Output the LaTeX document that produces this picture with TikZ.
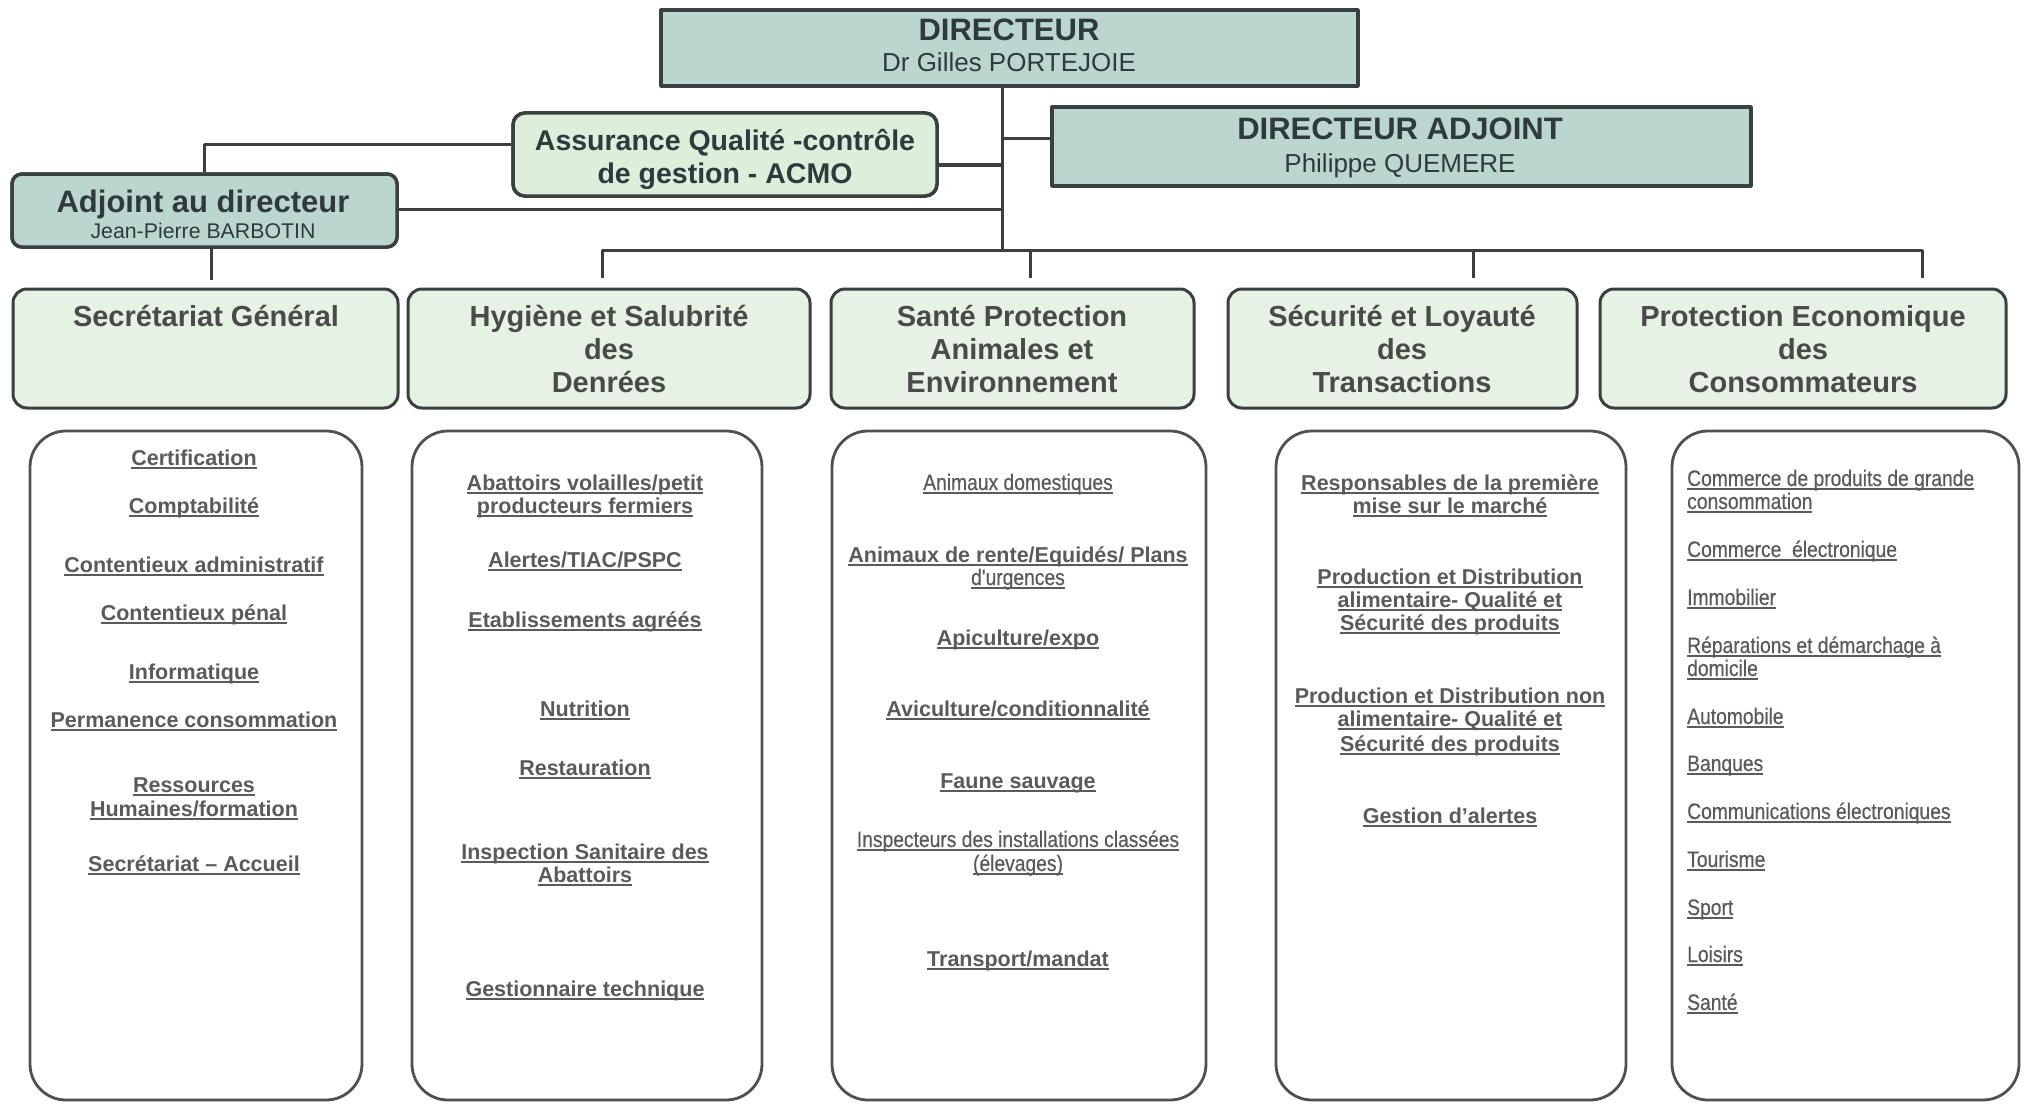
\documentclass[tikz,border=0pt]{standalone}
\usepackage{fontspec}
\setmainfont{Liberation Sans}
% condensed face for the long lists
\newfontfamily\condfont[FakeStretch=0.86,FakeBold=0.5]{Liberation Sans}

\definecolor{tealfill}{HTML}{BBD6CF}
\definecolor{greenfill}{HTML}{DDEEDA}
\definecolor{lightfill}{HTML}{E6F2E3}
\definecolor{edge}{HTML}{3A3F3F}
\definecolor{wire}{HTML}{3E3E3E}
\definecolor{headtxt}{HTML}{2F3A3E}
\definecolor{titletxt}{HTML}{4A4A4A}
\definecolor{itemtxt}{HTML}{5A5A5A}
\definecolor{listedge}{HTML}{505050}

% underlined text with a rule at a fixed depth below the baseline
\newcommand\ulx[1]{\setbox0=\hbox{#1}\rlap{\rule[-3.5pt]{\wd0}{1.5pt}}\box0}
\newcommand\fsz[1]{\fontsize{#1}{#1}\selectfont}
\newcommand\nrw{\condfont\mdseries\fsz{22.4}}

\begin{document}
\begin{tikzpicture}[x=1pt,y=-1pt,line join=round,
  headbox/.style={draw=edge,line width=3.5pt,fill=tealfill,inner sep=0pt},
  qualbox/.style={draw=edge,line width=3.5pt,fill=greenfill,rounded corners=12pt,inner sep=0pt},
  deptbox/.style={draw=edge,line width=3pt,fill=lightfill,rounded corners=14pt,inner sep=0pt},
  listbox/.style={draw=listedge,line width=2.8pt,fill=white,rounded corners=36pt,inner sep=0pt},
  wire/.style={draw=wire,line width=3pt},
  htext/.style={text=headtxt,inner sep=0pt,anchor=base},
  ttext/.style={text=titletxt,inner sep=0pt,anchor=base,font=\bfseries\fsz{29}},
  itext/.style={text=itemtxt,inner sep=0pt,anchor=base,font=\bfseries\fsz{21.5}},
  ntext/.style={text=itemtxt,inner sep=0pt,anchor=base,font=\nrw},
  ltext/.style={text=itemtxt,inner sep=0pt,anchor=base west,font=\nrw}]

\useasboundingbox (0,0) rectangle (2024,1105);
\fill[white] (0,0) rectangle (2024,1105);

% ---------- helper levels for the connectors ----------
\coordinate (yq) at (0,145);
\coordinate (yqa) at (0,165);
\coordinate (yda) at (0,139);
\coordinate (yad) at (0,209);
\coordinate (tk) at (1002,250);
\coordinate (d2) at (602,278);
\coordinate (d3) at (1030,278);
\coordinate (d4) at (1473,278);
\coordinate (d5) at (1922,278);
\coordinate (d1) at (211,280);

% ---------- management boxes ----------
\node[headbox,minimum width=697,minimum height=76] (dir) at (1009.5,48) {};
\node[qualbox,minimum width=424,minimum height=83] (assur) at (725,154.5) {};
\node[headbox,minimum width=699,minimum height=79] (dadj) at (1401.5,146.5) {};
\node[headbox,rounded corners=10pt,minimum width=385,minimum height=73] (adj) at (204.5,210.5) {};

% ---------- connectors ----------
\draw[wire] (dir.south -| tk) -- (tk);
\draw[wire] (assur.east |- yqa) -- (tk |- yqa);
\draw[wire] (dadj.west |- yda) -- (tk |- yda);
\draw[wire] (adj.east |- yad) -- (tk |- yad);
\draw[wire] (adj.north) -- (adj.north |- yq) -- (assur.west |- yq);
\draw[wire] (adj.south -| d1) -- (d1);
\draw[wire] (d2) -- (d2 |- tk) -- (d5 |- tk) -- (d5);
\draw[wire] (d3 |- tk) -- (d3);
\draw[wire] (d4 |- tk) -- (d4);

% redraw boxes over the wire ends
\node[headbox,minimum width=697,minimum height=76] at (dir) {};
\node[qualbox,minimum width=424,minimum height=83] at (assur) {};
\node[headbox,minimum width=699,minimum height=79] at (dadj) {};
\node[headbox,rounded corners=10pt,minimum width=385,minimum height=73] at (adj) {};

% ---------- management texts ----------
\node[htext,font=\bfseries\fsz{31}] (dir-t1) at (1009,41) {DIRECTEUR};
\node[htext,font=\fsz{26}] (dir-t2) at (1009,72) {Dr Gilles PORTEJOIE};
\node[htext,font=\bfseries\fsz{31}] (dadj-t1) at (1400,140) {DIRECTEUR ADJOINT};
\node[htext,font=\fsz{26}] (dadj-t2) at (1400,172) {Philippe QUEMERE};
\node[htext,font=\bfseries\fsz{28.5}] (assur-t1) at (725,150) {Assurance Qualité -contrôle};
\node[htext,font=\bfseries\fsz{28.5}] (assur-t2) at (725,183) {de gestion - ACMO};
\node[htext,font=\bfseries\fsz{31}] (adj-t1) at (203,212) {Adjoint au directeur};
\node[htext,font=\fsz{21.3}] (adj-t2) at (203,238) {Jean-Pierre BARBOTIN};

% ---------- department headers ----------
\node[deptbox,minimum width=385,minimum height=119] (sg) at (205.5,348.5) {};
\node[deptbox,minimum width=402,minimum height=119] (hyg) at (609,348.5) {};
\node[deptbox,minimum width=363,minimum height=119] (san) at (1012.5,348.5) {};
\node[deptbox,minimum width=349,minimum height=119] (sec) at (1402.5,348.5) {};
\node[deptbox,minimum width=406,minimum height=119] (pro) at (1803,348.5) {};

\node[ttext] (sg-t1) at (206,326) {Secrétariat Général};
\node[ttext] (hyg-t1) at (609,326) {Hygiène et Salubrité};
\node[ttext] (hyg-t2) at (609,359) {des};
\node[ttext] (hyg-t3) at (609,392) {Denrées};
\node[ttext] (san-t1) at (1012,326) {Santé Protection};
\node[ttext] (san-t2) at (1012,359) {Animales et};
\node[ttext] (san-t3) at (1012,392) {Environnement};
\node[ttext] (sec-t1) at (1402,326) {Sécurité et Loyauté};
\node[ttext] (sec-t2) at (1402,359) {des};
\node[ttext] (sec-t3) at (1402,392) {Transactions};
\node[ttext] (pro-t1) at (1803,326) {Protection Economique};
\node[ttext] (pro-t2) at (1803,359) {des};
\node[ttext] (pro-t3) at (1803,392) {Consommateurs};

% ---------- task lists ----------
\node[listbox,minimum width=332,minimum height=669] (l1) at (196,765.5) {};
\node[listbox,minimum width=350,minimum height=669] (l2) at (587,765.5) {};
\node[listbox,minimum width=374,minimum height=669] (l3) at (1019,765.5) {};
\node[listbox,minimum width=350,minimum height=669] (l4) at (1451,765.5) {};
\node[listbox,minimum width=347,minimum height=669] (l5) at (1845.5,765.5) {};

% Secrétariat Général
\node[itext] (l1-a) at (194,465) {\ulx{Certification}};
\node[itext] (l1-b) at (194,513) {\ulx{Comptabilité}};
\node[itext] (l1-c) at (194,572) {\ulx{Contentieux administratif}};
\node[itext] (l1-d) at (194,620) {\ulx{Contentieux pénal}};
\node[itext] (l1-e) at (194,679) {\ulx{Informatique}};
\node[itext] (l1-f) at (194,727) {\ulx{Permanence consommation}};
\node[itext] (l1-g) at (194,792) {\ulx{Ressources}};
\node[itext] (l1-h) at (194,816) {\ulx{Humaines/formation}};
\node[itext] (l1-i) at (194,871) {\ulx{Secrétariat – Accueil}};

% Hygiène et Salubrité des Denrées
\node[itext] (l2-a) at (585,490) {\ulx{Abattoirs volailles/petit}};
\node[itext] (l2-b) at (585,513) {\ulx{producteurs fermiers}};
\node[itext] (l2-c) at (585,567) {\ulx{Alertes/TIAC/PSPC}};
\node[itext] (l2-d) at (585,627) {\ulx{Etablissements agréés}};
\node[itext] (l2-e) at (585,716) {\ulx{Nutrition}};
\node[itext] (l2-f) at (585,775) {\ulx{Restauration}};
\node[itext] (l2-g) at (585,859) {\ulx{Inspection Sanitaire des}};
\node[itext] (l2-h) at (585,882) {\ulx{Abattoirs}};
\node[itext] (l2-i) at (585,996) {\ulx{Gestionnaire technique}};

% Santé Protection Animales et Environnement
\node[ntext] (l3-a) at (1018,490) {\ulx{Animaux domestiques}};
\node[itext] (l3-b) at (1018,562) {\ulx{Animaux de rente/Equidés/{\nrw} Plans}};
\node[ntext] (l3-c) at (1018,585) {\ulx{d'urgences}};
\node[itext] (l3-d) at (1018,645) {\ulx{Apiculture/expo}};
\node[itext] (l3-e) at (1018,716) {\ulx{Aviculture/conditionnalité}};
\node[itext] (l3-f) at (1018,788) {\ulx{Faune sauvage}};
\node[ntext] (l3-g) at (1018,847) {\ulx{Inspecteurs des installations classées}};
\node[ntext] (l3-h) at (1018,871) {\ulx{(élevages)}};
\node[itext] (l3-i) at (1018,966) {\ulx{Transport/mandat}};

% Sécurité et Loyauté des Transactions
\node[itext] (l4-a) at (1450,490) {\ulx{Responsables de la première}};
\node[itext] (l4-b) at (1450,513) {\ulx{mise sur le marché}};
\node[itext] (l4-c) at (1450,584) {\ulx{Production et Distribution}};
\node[itext] (l4-d) at (1450,607) {\ulx{alimentaire- Qualité et}};
\node[itext] (l4-e) at (1450,630) {\ulx{Sécurité des produits}};
\node[itext] (l4-f) at (1450,703) {\ulx{Production et Distribution non}};
\node[itext] (l4-g) at (1450,726) {\ulx{alimentaire- Qualité et}};
\node[itext] (l4-h) at (1450,751) {\ulx{Sécurité des produits}};
\node[itext] (l4-i) at (1450,823) {\ulx{Gestion d'alertes}};

% Protection Economique des Consommateurs
\node[ltext] (l5-a) at (1687,486) {\ulx{Commerce de produits de grande}};
\node[ltext] (l5-b) at (1687,509) {\ulx{consommation}};
\node[ltext] (l5-c) at (1687,557) {\ulx{Commerce\ \ électronique}};
\node[ltext] (l5-d) at (1687,605) {\ulx{Immobilier}};
\node[ltext] (l5-e) at (1687,653) {\ulx{Réparations et démarchage à}};
\node[ltext] (l5-f) at (1687,676) {\ulx{domicile}};
\node[ltext] (l5-g) at (1687,724) {\ulx{Automobile}};
\node[ltext] (l5-h) at (1687,771) {\ulx{Banques}};
\node[ltext] (l5-i) at (1687,819) {\ulx{Communications électroniques}};
\node[ltext] (l5-j) at (1687,867) {\ulx{Tourisme}};
\node[ltext] (l5-k) at (1687,915) {\ulx{Sport}};
\node[ltext] (l5-l) at (1687,962) {\ulx{Loisirs}};
\node[ltext] (l5-m) at (1687,1010) {\ulx{Santé}};
\end{tikzpicture}
\end{document}
